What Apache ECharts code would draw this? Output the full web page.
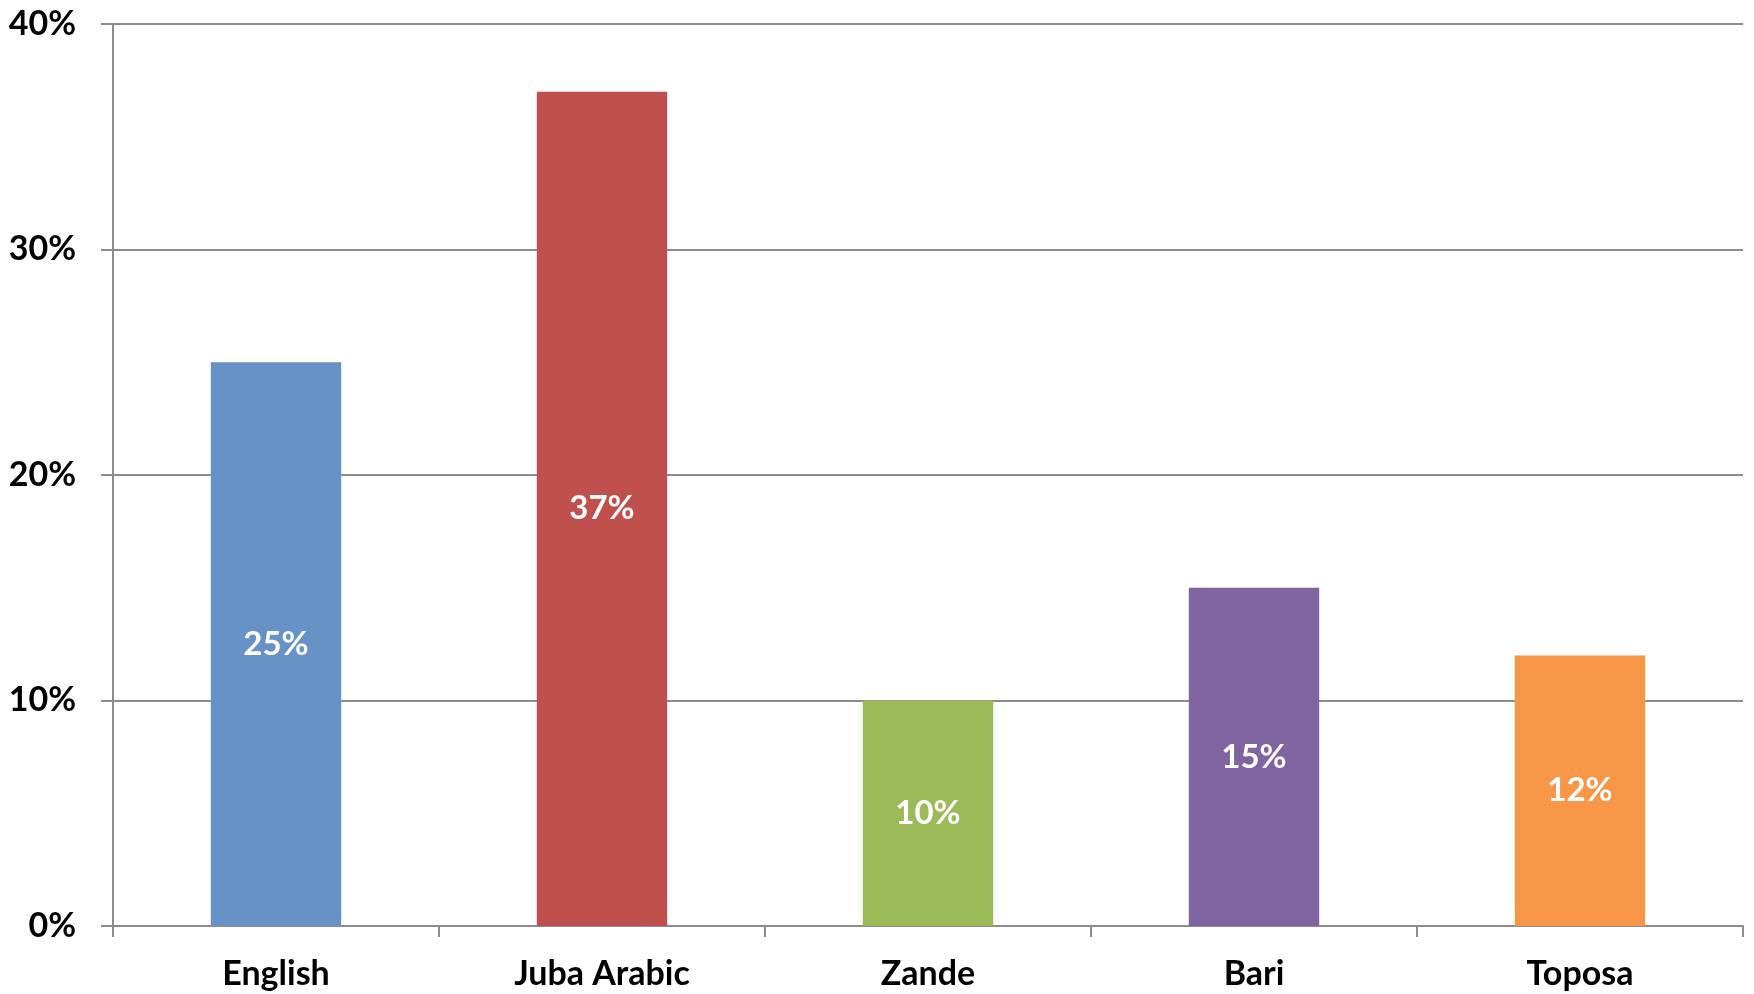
<!DOCTYPE html>
<html>
<head>
<meta charset="utf-8">
<script src="https://cdn.jsdelivr.net/npm/echarts@6/dist/echarts.min.js"></script>
<style>
  html, body { margin: 0; padding: 0; background: #ffffff; }
  #chart { width: 1754px; height: 994px; }
</style>
</head>
<body>
<div id="chart"></div>
<script>
// Languages and their shares (percent)
const languages = ['English', 'Juba Arabic', 'Zande', 'Bari', 'Toposa'];
const shares = [25, 37, 10, 15, 12];
const barColors = ['#6792C6', '#C0504D', '#9BBB59', '#8064A2', '#F79646'];

const FONT = 'Lato, "Open Sans", sans-serif';
const LINE = '#8c8c8c';

const chart = echarts.init(document.getElementById('chart'), null, { renderer: 'canvas' });

chart.setOption({
  backgroundColor: '#ffffff',
  animation: false,
  grid: { left: 113, right: 11, top: 24, bottom: 68 },
  xAxis: {
    type: 'category',
    data: languages,
    axisLine: { show: true, lineStyle: { color: LINE, width: 2 } },
    axisTick: { show: true, alignWithLabel: false, length: 11, inside: false, lineStyle: { color: LINE, width: 2 } },
    axisLabel: { color: '#000', fontFamily: FONT, fontWeight: 'bold', fontSize: 34, margin: 31 }
  },
  yAxis: {
    type: 'value',
    min: 0,
    max: 40,
    interval: 10,
    axisLine: { show: true, lineStyle: { color: LINE, width: 2 } },
    axisTick: { show: true, length: 12, lineStyle: { color: LINE, width: 2 } },
    splitLine: { show: true, lineStyle: { color: LINE, width: 2 } },
    axisLabel: { color: '#000', fontFamily: FONT, fontWeight: 'bold', fontSize: 34, margin: 37, formatter: '{value}%' }
  },
  series: [{
    type: 'bar',
    barWidth: '40%',
    data: shares.map((v, i) => ({ value: v, itemStyle: { color: barColors[i] } })),
    label: {
      show: true,
      position: 'inside',
      color: '#ffffff',
      fontFamily: FONT,
      fontWeight: 'bold',
      fontSize: 33,
      formatter: '{c}%'
    }
  }]
});
</script>
</body>
</html>
